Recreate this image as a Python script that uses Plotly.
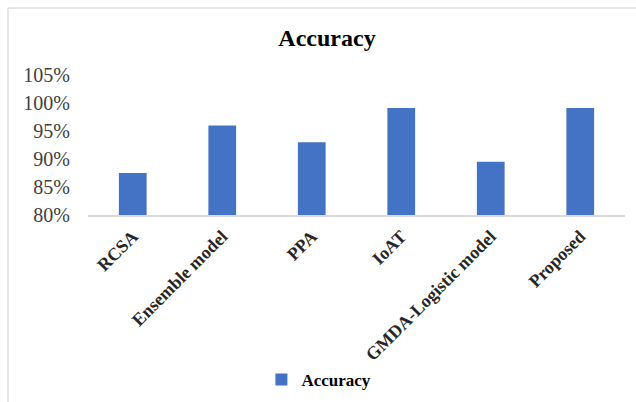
import plotly.graph_objects as go

methods = ["RCSA", "Ensemble model", "PPA", "IoAT", "GMDA-Logistic model", "Proposed"]
accuracy = [0.875, 0.96, 0.93, 0.991, 0.895, 0.991]
series_name = "Accuracy"

W, H = 636, 402
L, R, T, B = 88, 11, 75, 187
pw, ph = W - L - R, H - T - B


def px_x(x):
    return (x - L) / pw


def px_y(y):
    return (H - B - y) / ph


serif = "Liberation Serif, Times New Roman, serif"

fig = go.Figure(
    go.Bar(
        x=methods,
        y=accuracy,
        name="<b>" + series_name + "</b>",
        marker=dict(color="#4472C4", line=dict(width=0)),
        showlegend=True,
    )
)

fig.update_layout(
    width=W,
    height=H,
    margin=dict(l=L, r=R, t=T, b=B, autoexpand=False),
    plot_bgcolor="white",
    paper_bgcolor="white",
    bargap=0.69,
    title=dict(
        text="<b>Accuracy</b>",
        x=327 / W,
        xanchor="center",
        y=1 - 38 / H,
        yanchor="middle",
        font=dict(family=serif, size=24, color="#000000"),
    ),
    xaxis=dict(
        tickangle=-45,
        tickfont=dict(family=serif, size=18, color="#262626"),
        showline=True,
        linecolor="#d9d9d9",
        linewidth=1.5,
        ticks="",
        showgrid=False,
        tickprefix="<b>",
        ticksuffix="</b>",
        ticklabelstandoff=2,
        automargin=False,
    ),
    yaxis=dict(
        range=[0.8, 1.05],
        dtick=0.05,
        tickformat=".0%",
        tickfont=dict(family=serif, size=20, color="#404040"),
        showgrid=False,
        showline=False,
        zeroline=False,
        ticks="",
        ticklabelstandoff=17,
        automargin=False,
    ),
    legend=dict(
        orientation="h",
        x=0.43,
        xanchor="center",
        y=px_y(380),
        yanchor="middle",
        font=dict(family=serif, size=17, color="#000000"),
        itemwidth=30,
    ),
    shapes=[
        dict(type="line", xref="paper", yref="paper",
             x0=px_x(8), x1=px_x(636), y0=px_y(8), y1=px_y(8),
             line=dict(color="#dcdcdc", width=1.5)),
        dict(type="line", xref="paper", yref="paper",
             x0=px_x(8), x1=px_x(8), y0=px_y(8), y1=px_y(402),
             line=dict(color="#dcdcdc", width=1.5)),
    ],
)

fig.write_html("out.html")
